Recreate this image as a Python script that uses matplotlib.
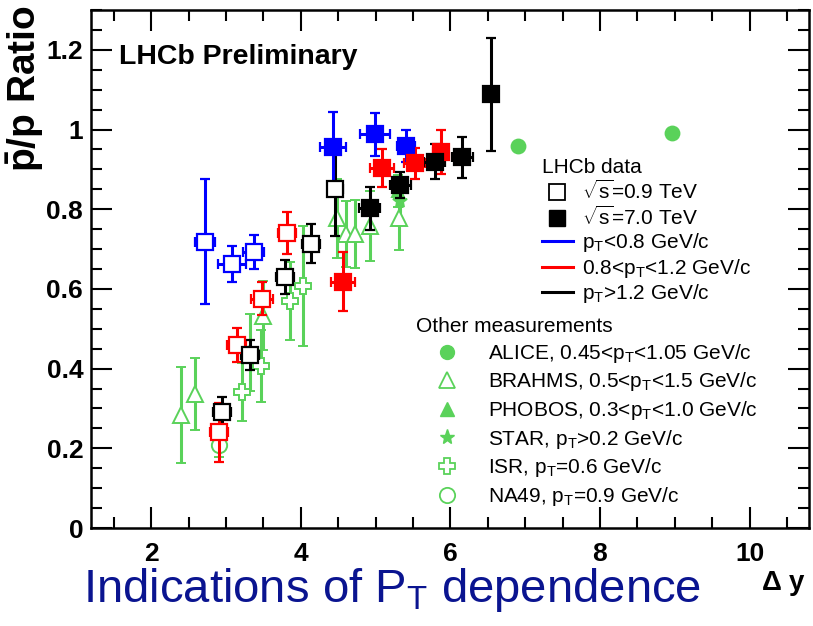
import matplotlib
matplotlib.use("Agg")
import matplotlib.pyplot as plt
from matplotlib.lines import Line2D
from matplotlib.ticker import MultipleLocator, FuncFormatter

plt.rcParams['font.family'] = ['Liberation Sans', 'DejaVu Sans']
plt.rcParams['mathtext.fontset'] = 'custom'
plt.rcParams['mathtext.rm'] = 'Liberation Sans'
plt.rcParams['mathtext.it'] = 'Liberation Sans:italic'
plt.rcParams['mathtext.bf'] = 'Liberation Sans:bold'
plt.rcParams['mathtext.sf'] = 'Liberation Sans'

# LHCb, sqrt(s)=0.9 TeV (open squares)
lo09_x = [2.72, 3.08, 3.37]
lo09_y = [0.718, 0.662, 0.693]
lo09_ey = [0.157, 0.045, 0.043]
lo09_ex = [0.13, 0.19, 0.14]

mid09_x = [2.90, 3.14, 3.48, 3.82]
mid09_y = [0.240, 0.459, 0.576, 0.740]
mid09_ey = [0.075, 0.043, 0.042, 0.053]
mid09_ex = [0.12, 0.13, 0.15, 0.12]

hi09_x = [2.95, 3.32, 3.79, 4.14, 4.46]
hi09_y = [0.292, 0.434, 0.630, 0.714, 0.851]
hi09_ey = [0.038, 0.038, 0.042, 0.050, 0.118]
hi09_ex = [0.12, 0.12, 0.12, 0.12, 0.10]

# LHCb, sqrt(s)=7 TeV (filled squares)
lo7_x = [4.43, 4.99, 5.41]
lo7_y = [0.955, 0.988, 0.959]
lo7_ey = [0.088, 0.054, 0.040]
lo7_ex = [0.18, 0.20, 0.12]

mid7_x = [4.56, 5.08, 5.52, 5.87]
mid7_y = [0.618, 0.904, 0.915, 0.944]
mid7_ey = [0.074, 0.047, 0.038, 0.056]
mid7_ex = [0.16, 0.16, 0.14, 0.10]

hi7_x = [4.92, 5.33, 5.79, 6.16, 6.54]
hi7_y = [0.802, 0.861, 0.919, 0.930, 1.089]
hi7_ey = [0.053, 0.032, 0.044, 0.052, 0.142]
hi7_ex = [0.14, 0.14, 0.14, 0.14, 0.08]

# Other experiments
alice_x = [6.90, 8.97]
alice_y = [0.959, 0.992]
alice_ey = [0.008, 0.008]

brahms_x = [2.40, 2.58, 3.32, 3.50, 4.49, 4.61, 4.72, 4.92, 5.31]
brahms_y = [0.284, 0.336, 0.440, 0.533, 0.777, 0.737, 0.737, 0.758, 0.777]
brahms_ey = [0.120, 0.090, 0.096, 0.087, 0.100, 0.083, 0.085, 0.087, 0.080]

phobos_x = [5.30]
phobos_y = [0.845]
phobos_ey = [0.040]

star_x = [5.32]
star_y = [0.820]
star_ey = [0.050]

isr_x = [3.21, 3.47, 3.85, 4.03]
isr_y = [0.341, 0.407, 0.570, 0.608]
isr_ey = [0.072, 0.090, 0.098, 0.150]

na49_x = [2.90]
na49_y = [0.208]
na49_ey = [0.030]

BLUE = '#0000ff'
RED = '#ff0000'
BLACK = '#000000'
GREEN = '#5ad25a'
NAVY = '#0a1490'

fig = plt.figure(figsize=(8.13, 6.26), dpi=100)
ax = fig.add_axes([0.1125, 0.1565, 0.8830, 0.8275])

def green(x, y, ey, marker, ms, filled=False, z=2):
    ax.errorbar(x, y, yerr=ey, fmt=marker, color=GREEN, ms=ms,
                mfc=GREEN if filled else 'white', mec=GREEN, mew=1.4,
                elinewidth=2.2, capsize=3.5, capthick=2.2, zorder=z)

green(brahms_x, brahms_y, brahms_ey, '^', 11)
green(isr_x, isr_y, isr_ey, 'P', 12)
green(na49_x, na49_y, na49_ey, 'o', 11)
green(phobos_x, phobos_y, phobos_ey, '^', 9, filled=True)
green(star_x, star_y, star_ey, '*', 11, filled=True)
green(alice_x, alice_y, alice_ey, 'o', 10, filled=True)

def lhcb(x, y, ex, ey, col, filled):
    ax.errorbar(x, y, xerr=ex, yerr=ey, fmt='s', color=col, ms=11.5,
                mfc=col if filled else 'white', mec=col, mew=1.6,
                elinewidth=2.2, capsize=3.5, capthick=2.2, zorder=4)

lhcb(lo09_x, lo09_y, lo09_ex, lo09_ey, BLUE, False)
lhcb(mid09_x, mid09_y, mid09_ex, mid09_ey, RED, False)
lhcb(hi09_x, hi09_y, hi09_ex, hi09_ey, BLACK, False)
lhcb(lo7_x, lo7_y, lo7_ex, lo7_ey, BLUE, True)
lhcb(mid7_x, mid7_y, mid7_ex, mid7_ey, RED, True)
lhcb(hi7_x, hi7_y, hi7_ex, hi7_ey, BLACK, True)

ax.set_xlim(1.2, 10.8)
ax.set_ylim(0, 1.30)

ax.xaxis.set_major_locator(MultipleLocator(2))
ax.xaxis.set_minor_locator(MultipleLocator(0.5))
ax.yaxis.set_major_locator(MultipleLocator(0.2))
ax.yaxis.set_minor_locator(MultipleLocator(0.05))
ax.yaxis.set_major_formatter(FuncFormatter(lambda v, p: f'{v:g}'))
ax.tick_params(which='both', direction='in', top=True, right=True, width=1.5)
ax.tick_params(which='major', length=15, labelsize=19)
ax.tick_params(which='minor', length=8)
ax.tick_params(axis='x', which='major', pad=10)
ax.tick_params(axis='y', which='major', pad=6)
for lab in ax.get_xticklabels() + ax.get_yticklabels():
    lab.set_fontweight('bold')
for s in ax.spines.values():
    s.set_linewidth(1.8)

ax.set_ylabel(r'$\mathbf{\bar{p}}$/p Ratio', fontsize=28, fontweight='bold')
ax.yaxis.set_label_coords(-0.064, 0.849)
ax.set_xlabel(r'$\mathbf{\Delta}$ y', fontsize=20, fontweight='bold')
ax.xaxis.set_label_coords(0.964, -0.079)

ax.text(0.038, 0.909, 'LHCb Preliminary', transform=ax.transAxes,
        fontsize=20.5, fontweight='bold', va='center', ha='left')

fig.text(0.102, 0.057, r'Indications of P$_\mathregular{T}$ dependence',
         color=NAVY, fontsize=34, va='center', ha='left')

# Legends
lfont = {'size': 15}
h1 = [Line2D([], [], ls='none', marker='s', ms=12, mfc='white', mec='black', mew=1.3),
      Line2D([], [], ls='none', marker='s', ms=12, mfc='black', mec='black'),
      Line2D([], [], color=BLUE, lw=2.2),
      Line2D([], [], color=RED, lw=2.2),
      Line2D([], [], color=BLACK, lw=2.2)]
l1 = [r'$\sqrt{\mathregular{s}}$=0.9 TeV', r'$\sqrt{\mathregular{s}}$=7.0 TeV',
      r'p$_\mathregular{T}$<0.8 GeV/c', r'0.8<p$_\mathregular{T}$<1.2 GeV/c',
      r'p$_\mathregular{T}$>1.2 GeV/c']
leg1 = ax.legend(h1, l1, loc='upper left', bbox_to_anchor=(0.6226, 0.720),
                 frameon=False, prop=lfont, title='LHCb data',
                 title_fontproperties=lfont, alignment='left',
                 handlelength=1.5, handletextpad=0.43, labelspacing=0.12,
                 borderpad=0.15, borderaxespad=0)
ax.add_artist(leg1)

h2 = [Line2D([], [], ls='none', marker='o', ms=10, mfc=GREEN, mec=GREEN),
      Line2D([], [], ls='none', marker='^', ms=11, mfc='white', mec=GREEN, mew=1.3),
      Line2D([], [], ls='none', marker='^', ms=10, mfc=GREEN, mec=GREEN),
      Line2D([], [], ls='none', marker='*', ms=11, mfc=GREEN, mec=GREEN),
      Line2D([], [], ls='none', marker='P', ms=12, mfc='white', mec=GREEN, mew=1.3),
      Line2D([], [], ls='none', marker='o', ms=11, mfc='white', mec=GREEN, mew=1.3)]
l2 = [r'ALICE, 0.45<p$_\mathregular{T}$<1.05 GeV/c',
      r'BRAHMS, 0.5<p$_\mathregular{T}$<1.5 GeV/c',
      r'PHOBOS, 0.3<p$_\mathregular{T}$<1.0 GeV/c',
      r'STAR, p$_\mathregular{T}$>0.2 GeV/c',
      r'ISR, p$_\mathregular{T}$=0.6 GeV/c',
      r'NA49, p$_\mathregular{T}$=0.9 GeV/c']
leg2 = ax.legend(h2, l2, loc='upper left', bbox_to_anchor=(0.4471, 0.413),
                 frameon=False, prop=lfont, title='Other measurements',
                 title_fontproperties=lfont, alignment='left',
                 handlelength=3.05, handletextpad=0.41, labelspacing=0.27,
                 borderpad=0.15, borderaxespad=0)

fig.savefig('out.png', dpi=100)
